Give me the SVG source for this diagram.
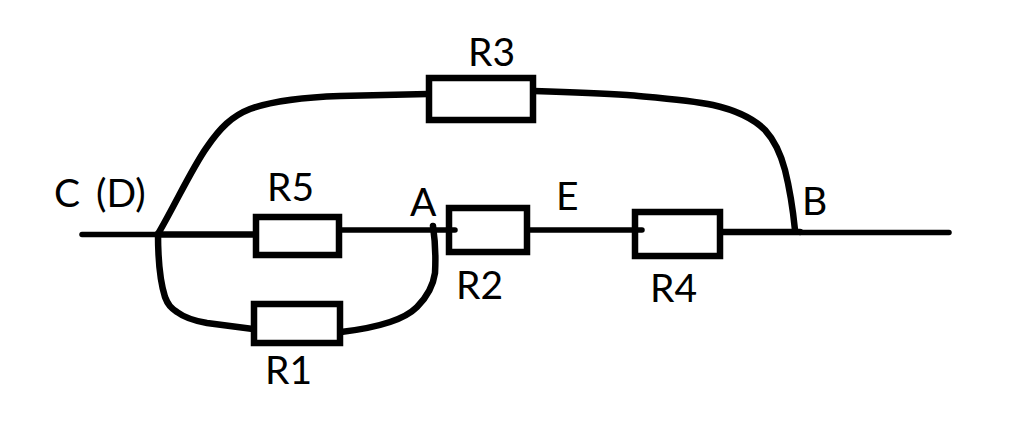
<svg xmlns="http://www.w3.org/2000/svg" width="1024" height="430" viewBox="0 0 1024 430">
<style>
.w{fill:none;stroke:#000;stroke-width:6.500;stroke-linecap:round;stroke-linejoin:round}
.t{stroke-width:5.500}
.r{fill:#fff;stroke:#000;stroke-width:6.500}
text{font-family:Lato,"Open Sans","Liberation Sans",sans-serif;font-size:39px;fill:#000}
</style>
<rect width="1024" height="430" fill="#fff"/>
<g id="connectors">
<path class="w t" d="M82 234.500H158"/>
<path class="w" d="M158 234.500H255"/>
<path class="w t" d="M340 230H455"/>
<path class="w t" d="M528 230H642"/>
<path class="w" d="M722 232H800"/>
<path class="w t" d="M800 232.500H949"/>
<path class="w" d="M158 234C175 205 192 168 207 147C220 128 232 116 250 109C275 100 310 97 340 96L428 94"/>
<path class="w" d="M534 91C565 92 596 93 627 95C660 98 690 100 713 105C735 110 753 118 765 130C775 141 781 155 785 170C790 190 793 210 795 230"/>
<path class="w" d="M158 234C158 255 159 278 165 297C168 305 171 308 177 312C185 318 195 321 207 323L253 329"/>
<path class="w" d="M341 332C358 330 375 327 390 322C402 318 410 314 417 307C427 297 433 287 435 273C436 255 435 240 433 226"/>
</g>
<g id="R3"><rect class="r" x="429" y="78" width="104" height="42"/><text x="468" y="66">R3</text></g>
<g id="R5"><rect class="r" x="256" y="217" width="83" height="38"/><text x="267" y="201">R5</text></g>
<g id="R1"><rect class="r" x="254" y="304" width="86" height="39"/><text x="265" y="384">R1</text></g>
<g id="R2"><rect class="r" x="449" y="208" width="78" height="44"/><text x="456" y="299">R2</text></g>
<g id="R4"><rect class="r" x="635" y="212" width="85" height="44"/><text x="650" y="302">R4</text></g>
<path class="w t" d="M449 230H455M635 230H642"/>
<g id="C"><text x="54" y="207" word-spacing="6">C (D)</text></g>
<g id="A"><text x="410" y="216">A</text></g>
<g id="E"><text x="556" y="210">E</text></g>
<g id="B"><text x="802" y="215">B</text></g>
</svg>
